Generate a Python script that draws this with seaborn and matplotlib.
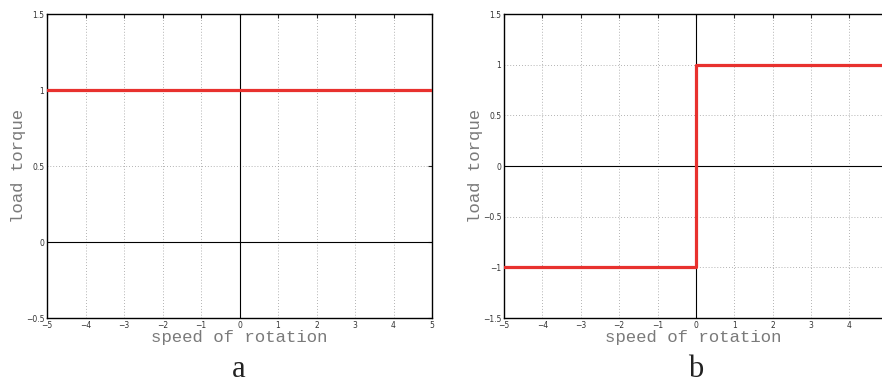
import numpy as np
import pandas as pd
import matplotlib
matplotlib.use("Agg")
import matplotlib.pyplot as plt
import seaborn as sns

# ---- data ----
speed_a = [-5, 5]
torque_a = [1, 1]
speed_b = [-5, 0, 0, 4.85]
torque_b = [-1, -1, 1, 1]

xticks_a = [-5, -4, -3, -2, -1, 0, 1, 2, 3, 4, 5]
xticks_b = [-5, -4, -3, -2, -1, 0, 1, 2, 3, 4]
yticks_a = [-0.5, 0, 0.5, 1, 1.5]
ytick_labels_a = ["\u22120.5", "0", "0.5", "1", "1.5"]
yticks_b = [-1.5, -1, -0.5, 0, 0.5, 1, 1.5]
ytick_labels_b = ["\u22121.5", "\u22121", "\u22120.5", "0", "0.5", "1", "1.5"]
panel_labels = ["a", "b"]

sns.set_style("white")
plt.rcParams['font.family'] = ['DejaVu Sans']

fig = plt.figure(figsize=(8.82, 3.85), dpi=100)
ax_a = fig.add_axes([47/882, 67/385, 385/882, 304/385])
ax_b = fig.add_axes([504/882, 67/385, 378/882, 304/385])

red = "#e8312e"
label_font = dict(family="Liberation Mono", size=12.5, color="#7a7a7a")


def style(ax, xt, yt, ytl, xlim, ylim, right_spine=True):
    ax.set_xlim(*xlim)
    ax.set_ylim(*ylim)
    ax.set_xticks(xt)
    ax.set_xticklabels([str(v).replace("-", "\u2212") for v in xt])
    ax.set_yticks(yt)
    ax.set_yticklabels(ytl)
    ax.tick_params(direction="in", length=3, width=0.8, top=True, right=right_spine,
                   labelsize=5.5, labelcolor="#333333", pad=2)
    ax.grid(True, linestyle=(0, (1, 2.5)), color="#9a9a9a", linewidth=0.6)
    ax.axhline(0, color="black", linewidth=0.8, zorder=1.5)
    ax.axvline(0, color="black", linewidth=0.8, zorder=1.5)
    for name, sp in ax.spines.items():
        sp.set_color("black")
        sp.set_linewidth(1.0)
    if not right_spine:
        ax.spines["right"].set_visible(False)
    ax.set_xlabel("speed of rotation", fontdict=label_font, labelpad=0)
    ax.set_ylabel("load torque", fontdict=label_font, labelpad=0)


df_a = pd.DataFrame({"speed": speed_a, "torque": torque_a})
df_b = pd.DataFrame({"speed": speed_b, "torque": torque_b})

sns.lineplot(data=df_a, x="speed", y="torque", ax=ax_a, color=red, linewidth=2.3,
             sort=False, estimator=None, zorder=3)
sns.lineplot(data=df_b, x="speed", y="torque", ax=ax_b, color=red, linewidth=2.3,
             sort=False, estimator=None, zorder=3)

style(ax_a, xticks_a, yticks_a, ytick_labels_a, (-5, 5), (-0.5, 1.5))
style(ax_b, xticks_b, yticks_b, ytick_labels_b, (-5, 4.85), (-1.5, 1.5), right_spine=False)

fig.text(239/882, 1 - 384/385, panel_labels[0], ha="center", va="bottom",
         family="Liberation Serif", size=22, color="#222222")
fig.text(696/882, 1 - 384/385, panel_labels[1], ha="center", va="bottom",
         family="Liberation Serif", size=22, color="#222222")

fig.savefig("out.png", dpi=100)
